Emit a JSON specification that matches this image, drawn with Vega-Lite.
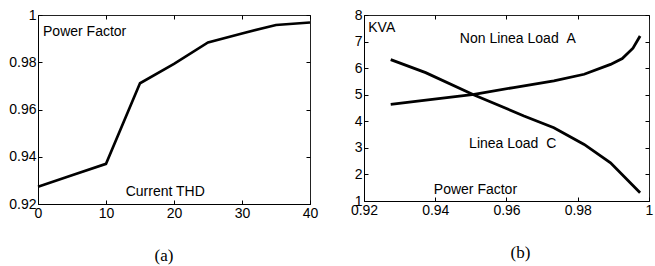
{
  "$schema": "https://vega.github.io/schema/vega-lite/v6.json",
  "padding": {"left": 8, "top": 7, "right": 0, "bottom": 0},
  "spacing": 30,
  "background": "white",
  "datasets": {
    "pf_thd": [
      {"thd": 0, "pf": 0.9273},
      {"thd": 5, "pf": 0.9322},
      {"thd": 10, "pf": 0.937},
      {"thd": 15, "pf": 0.9711},
      {"thd": 20, "pf": 0.9793},
      {"thd": 25, "pf": 0.9884},
      {"thd": 30, "pf": 0.9922},
      {"thd": 35, "pf": 0.9958},
      {"thd": 40, "pf": 0.9968}
    ],
    "kva": [
      {"series": "A", "pf": 0.9275, "kva": 4.64},
      {"series": "A", "pf": 0.9368, "kva": 4.79},
      {"series": "A", "pf": 0.9509, "kva": 5.01},
      {"series": "A", "pf": 0.962, "kva": 5.27},
      {"series": "A", "pf": 0.9733, "kva": 5.52},
      {"series": "A", "pf": 0.9818, "kva": 5.77},
      {"series": "A", "pf": 0.9892, "kva": 6.14},
      {"series": "A", "pf": 0.9925, "kva": 6.36},
      {"series": "A", "pf": 0.9955, "kva": 6.75},
      {"series": "A", "pf": 0.9975, "kva": 7.21},
      {"series": "C", "pf": 0.9275, "kva": 6.32},
      {"series": "C", "pf": 0.9373, "kva": 5.83},
      {"series": "C", "pf": 0.9509, "kva": 4.99},
      {"series": "C", "pf": 0.9649, "kva": 4.2},
      {"series": "C", "pf": 0.9733, "kva": 3.76},
      {"series": "C", "pf": 0.9818, "kva": 3.13},
      {"series": "C", "pf": 0.9892, "kva": 2.44},
      {"series": "C", "pf": 0.9975, "kva": 1.31}
    ],
    "labels_a": [
      {"label": "Power Factor", "x": 0.74, "y": 0.9928},
      {"label": "Current THD", "x": 12.9, "y": 0.925}
    ],
    "labels_b": [
      {"label": "KVA", "x": 0.9212, "y": 7.52},
      {"label": "Non Linea Load\u00a0\u00a0A", "x": 0.9469, "y": 7.11},
      {"label": "Linea Load\u00a0\u00a0C", "x": 0.9495, "y": 3.16},
      {"label": "Power Factor", "x": 0.9396, "y": 1.41}
    ]
  },
  "hconcat": [
    {
      "width": 272,
      "height": 189,
      "title": {"text": "(a)", "orient": "bottom", "font": "Liberation Serif", "fontSize": 17, "fontWeight": "normal", "color": "black", "offset": 28, "dx": -10},
      "layer": [
        {
          "data": {"name": "pf_thd"},
          "mark": {"type": "line", "color": "black", "strokeWidth": 2.6},
          "encoding": {
            "x": {"field": "thd", "type": "quantitative", "scale": {"domain": [0, 40], "nice": false, "zero": false}, "axis": {"values": [0, 10, 20, 30, 40], "format": "d"}},
            "y": {"field": "pf", "type": "quantitative", "scale": {"domain": [0.92, 1], "nice": false, "zero": false}, "axis": {"values": [0.92, 0.94, 0.96, 0.98, 1], "format": ".2~f"}}
          }
        },
        {
          "data": {"name": "labels_a"},
          "mark": {"type": "text", "align": "left", "baseline": "middle", "font": "Liberation Sans", "fontSize": 14, "color": "black"},
          "encoding": {
            "x": {"field": "x", "type": "quantitative", "axis": {"orient": "top", "values": [0, 10, 20, 30, 40], "labels": false, "domain": false}},
            "y": {"field": "y", "type": "quantitative", "axis": {"orient": "right", "values": [0.92, 0.94, 0.96, 0.98, 1], "labels": false, "domain": false}},
            "text": {"field": "label"}
          }
        }
      ],
      "resolve": {"axis": {"x": "independent", "y": "independent"}}
    },
    {
      "width": 285,
      "height": 186,
      "title": {"text": "(b)", "orient": "bottom", "font": "Liberation Serif", "fontSize": 17, "fontWeight": "normal", "color": "black", "offset": 28, "dx": 14},
      "layer": [
        {
          "data": {"name": "kva"},
          "mark": {"type": "line", "color": "black", "strokeWidth": 2.8},
          "encoding": {
            "x": {"field": "pf", "type": "quantitative", "scale": {"domain": [0.92, 1], "nice": false, "zero": false}, "axis": {"values": [0.92, 0.94, 0.96, 0.98, 1], "format": ".2~f"}},
            "y": {"field": "kva", "type": "quantitative", "scale": {"domain": [1, 8], "nice": false, "zero": false}, "axis": {"values": [1, 2, 3, 4, 5, 6, 7, 8], "format": "d"}},
            "detail": {"field": "series"}
          }
        },
        {
          "data": {"name": "labels_b"},
          "mark": {"type": "text", "align": "left", "baseline": "middle", "font": "Liberation Sans", "fontSize": 14, "color": "black"},
          "encoding": {
            "x": {"field": "x", "type": "quantitative", "axis": {"orient": "top", "values": [0.92, 0.94, 0.96, 0.98, 1], "labels": false, "domain": false}},
            "y": {"field": "y", "type": "quantitative", "axis": {"orient": "right", "values": [1, 2, 3, 4, 5, 6, 7, 8], "labels": false, "domain": false}},
            "text": {"field": "label"}
          }
        }
      ],
      "resolve": {"axis": {"x": "independent", "y": "independent"}}
    }
  ],
  "config": {
    "view": {"stroke": "#222", "strokeWidth": 1},
    "axis": {
      "title": null,
      "grid": false,
      "domainColor": "black",
      "domainWidth": 1,
      "tickColor": "black",
      "tickSize": -4,
      "labelPadding": 6,
      "labelFont": "Liberation Sans",
      "labelFontSize": 14,
      "labelColor": "black",
      "labelFlush": false,
      "labelOverlap": false
    }
  }
}
